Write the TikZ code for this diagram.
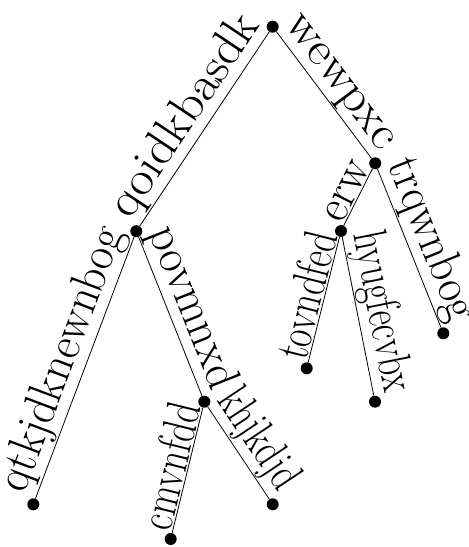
\documentclass[tikz,border=0pt]{standalone}
\usepackage{graphicx}
\newcommand\fitlbl[2]{\resizebox{#1pt}{\height}{#2}}
\begin{document}
\begin{tikzpicture}[x=1pt,y=1pt,
  dot/.style={circle,fill=black,inner sep=0pt,minimum size=12pt},
  edge/.style={line width=0.8pt},
  lbl/.style={sloped,anchor=south,inner sep=1pt,font=\fontsize{48}{56}\selectfont}]
\useasboundingbox (0,0) rectangle (469,547);
\node[dot] (root) at (272.7,520.3) {};
\node[dot] (A) at (136.3,315.8) {};
\node[dot] (B) at (375.2,383.7) {};
\node[dot] (C) at (204.3,145.3) {};
\node[dot] (D) at (341,316) {};
\node[dot] (L1) at (33.3,42.7) {};
\node[dot] (L2) at (170.7,8) {};
\node[dot] (L3) at (272.7,42.7) {};
\node[dot] (L4) at (306.7,178.7) {};
\node[dot] (L5) at (375,145.3) {};
\node[dot] (L6) at (443.3,213.7) {};
\draw[edge] (root) -- node[lbl]{\fitlbl{234}{qoidkbasdk}} (A);
\draw[edge] (root) -- node[lbl]{\fitlbl{159}{wewpxc}} (B);
\draw[edge] (A) -- node[lbl]{\fitlbl{280}{qtkjdknewnbog}} (L1);
\draw[edge] (A) -- node[lbl]{\fitlbl{172}{povmnxd}} (C);
\draw[edge] (C) -- node[lbl]{\fitlbl{129}{cmvnfdd}} (L2);
\draw[edge] (C) -- node[lbl]{\fitlbl{111}{khjkdjd}} (L3);
\draw[edge] (B) -- node[lbl]{\fitlbl{64}{erw}} (D);
\draw[edge] (B) -- node[lbl]{\fitlbl{171}{trqwnbog}} (L6);
\draw[edge] (D) -- node[lbl]{\fitlbl{129}{tovndfed}} (L4);
\draw[edge] (D) -- node[lbl]{\fitlbl{162}{hyugfecvbx}} (L5);
\end{tikzpicture}
\end{document}
